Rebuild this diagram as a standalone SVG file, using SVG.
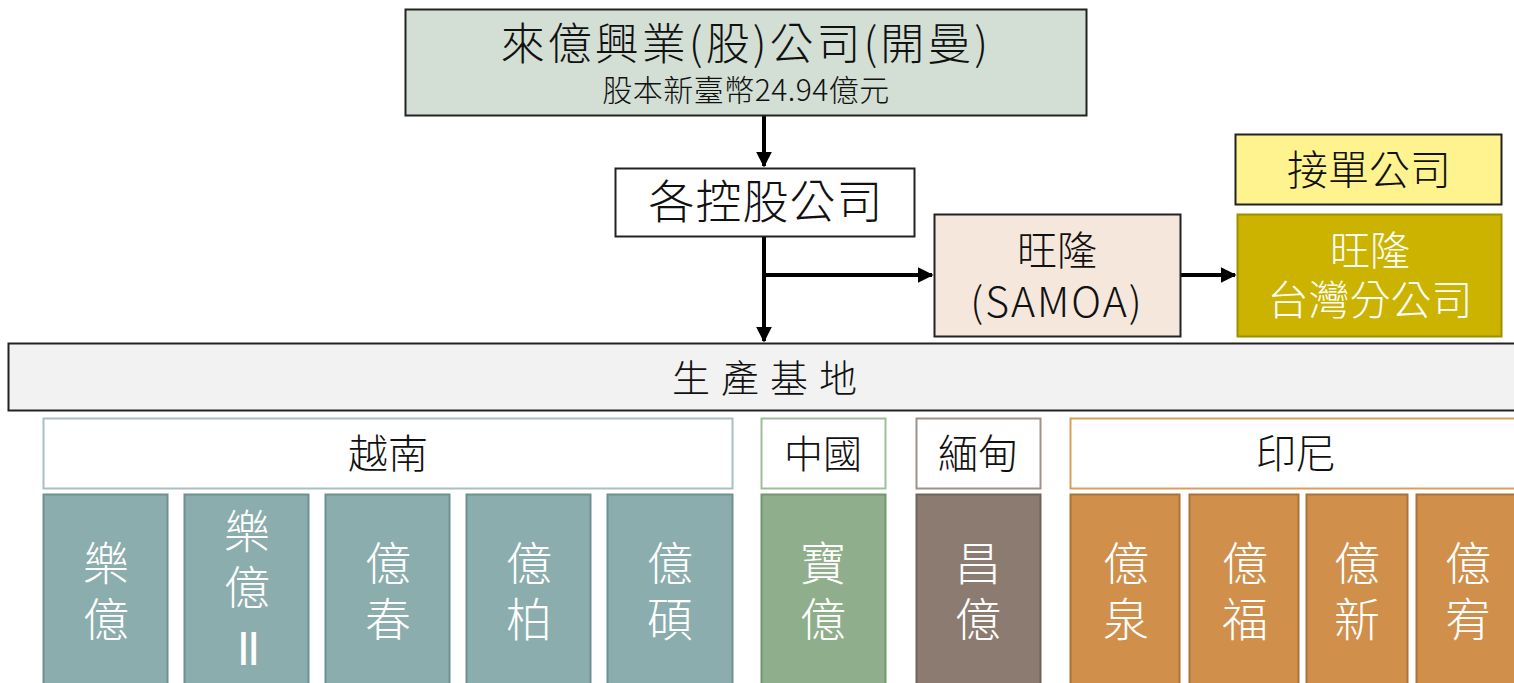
<svg xmlns="http://www.w3.org/2000/svg" width="1514" height="683" viewBox="0 0 1514 683">
<style>
text{font-family:"Noto Sans CJK TC","Noto Sans",sans-serif;text-anchor:middle;font-weight:300}
.dk{fill:#111}
.wh{fill:#fff}
.col{font-size:46px;fill:#fff}
.vn{fill:#8cadad;stroke:#6f9090;stroke-width:2}
.cn{fill:#8fae8b;stroke:#739570;stroke-width:2}
.mm{fill:#8c7b70;stroke:#70625a;stroke-width:2}
.id{fill:#d08f4b;stroke:#ac7338;stroke-width:2}
.line{stroke:#000;stroke-width:4;fill:none}
</style>
<defs>
<marker id="ah" viewBox="0 0 10 10" refX="9" refY="5" markerWidth="4" markerHeight="4" orient="auto" markerUnits="strokeWidth">
<path d="M0,0 L10,5 L0,10 z" fill="#000"/>
</marker>
</defs>
<rect width="1514" height="683" fill="#fff"/>
<g id="connectors">
<line class="line" x1="764" y1="116" x2="764" y2="166" marker-end="url(#ah)"/>
<line class="line" x1="764" y1="237" x2="764" y2="341" marker-end="url(#ah)"/>
<line class="line" x1="764" y1="275" x2="932" y2="275" marker-end="url(#ah)"/>
<line class="line" x1="1181" y1="275" x2="1235" y2="275" marker-end="url(#ah)"/>
</g>
<g id="parent">
<rect x="405.5" y="9.5" width="681" height="106" fill="#d3dfd4" stroke="#222" stroke-width="2"/>
<text class="dk"><tspan x="746" y="60" font-size="44" letter-spacing="3">來億興業(股)公司(開曼)</tspan><tspan x="746" y="101" font-size="30" letter-spacing="0.5">股本新臺幣24.94億元</tspan></text>
</g>
<g id="holding">
<rect x="615.5" y="168.5" width="299" height="68" fill="#fff" stroke="#222" stroke-width="2"/>
<text x="766" y="218" font-size="46" letter-spacing="1" class="dk">各控股公司</text>
</g>
<g id="samoa">
<rect x="934.5" y="214.5" width="246" height="122" fill="#f5e7dc" stroke="#222" stroke-width="2"/>
<text class="dk"><tspan x="1057" y="265" font-size="40">旺隆</tspan><tspan x="1057" y="317" font-size="41" letter-spacing="2">(SAMOA)</tspan></text>
</g>
<g id="order">
<rect x="1235.5" y="134.5" width="266" height="70" fill="#fff38f" stroke="#222" stroke-width="2"/>
<text x="1369" y="185" font-size="41" class="dk">接單公司</text>
</g>
<g id="taiwan">
<rect x="1237.5" y="214.5" width="264" height="122" fill="#cbb300" stroke="#a08e00" stroke-width="2"/>
<text class="wh"><tspan x="1370" y="265" font-size="40">旺隆</tspan><tspan x="1370" y="315" font-size="41">台灣分公司</tspan></text>
</g>
<g id="base">
<rect x="8.5" y="343.5" width="1510" height="67" fill="#f2f2f2" stroke="#222" stroke-width="2"/>
<text x="770" y="392" font-size="38" class="dk" letter-spacing="11">生產基地</text>
</g>
<g id="vietnam">
<rect x="43.5" y="418.5" width="689" height="70" fill="#fff" stroke="#a8c0c0" stroke-width="2"/>
<text x="388" y="468" font-size="40" class="dk">越南</text>
</g>
<g id="china">
<rect x="761.5" y="418.5" width="124" height="70" fill="#fff" stroke="#9fbd9c" stroke-width="2"/>
<text x="823" y="468" font-size="39" class="dk">中國</text>
</g>
<g id="myanmar">
<rect x="916.5" y="418.5" width="124" height="70" fill="#fff" stroke="#a0908a" stroke-width="2"/>
<text x="978" y="468" font-size="40" class="dk">緬甸</text>
</g>
<g id="indonesia">
<rect x="1070.5" y="418.5" width="450" height="70" fill="#fff" stroke="#dc9d5c" stroke-width="2"/>
<text x="1296" y="468" font-size="40" class="dk">印尼</text>
</g>
<g id="leyi">
<rect class="vn" x="43.5" y="494.5" width="124" height="200"/>
<text class="col"><tspan x="106" y="580">樂</tspan><tspan x="106" y="636">億</tspan></text>
</g>
<g id="leyi2">
<rect class="vn" x="184.5" y="494.5" width="124" height="200"/>
<text class="col"><tspan x="247" y="548">樂</tspan><tspan x="247" y="604">億</tspan><tspan x="247" y="665" font-size="48" font-family="Liberation Sans, sans-serif" font-weight="normal" letter-spacing="-3">II</tspan></text>
</g>
<g id="yichun">
<rect class="vn" x="325.5" y="494.5" width="124" height="200"/>
<text class="col"><tspan x="388" y="580">億</tspan><tspan x="388" y="636">春</tspan></text>
</g>
<g id="yibai">
<rect class="vn" x="466.5" y="494.5" width="124" height="200"/>
<text class="col"><tspan x="529" y="580">億</tspan><tspan x="529" y="636">柏</tspan></text>
</g>
<g id="yishuo">
<rect class="vn" x="607.5" y="494.5" width="125" height="200"/>
<text class="col"><tspan x="670" y="580">億</tspan><tspan x="670" y="636">碩</tspan></text>
</g>
<g id="baoyi">
<rect class="cn" x="761.5" y="494.5" width="124" height="200"/>
<text class="col"><tspan x="823" y="580">寶</tspan><tspan x="823" y="636">億</tspan></text>
</g>
<g id="changyi">
<rect class="mm" x="916.5" y="494.5" width="124" height="200"/>
<text class="col"><tspan x="978" y="580">昌</tspan><tspan x="978" y="636">億</tspan></text>
</g>
<g id="yiquan">
<rect class="id" x="1070.5" y="494.5" width="109" height="200"/>
<text class="col"><tspan x="1126" y="580">億</tspan><tspan x="1126" y="636">泉</tspan></text>
</g>
<g id="yifu">
<rect class="id" x="1189.5" y="494.5" width="109" height="200"/>
<text class="col"><tspan x="1245" y="580">億</tspan><tspan x="1245" y="636">福</tspan></text>
</g>
<g id="yixin">
<rect class="id" x="1306.5" y="494.5" width="101" height="200"/>
<text class="col"><tspan x="1357" y="580">億</tspan><tspan x="1357" y="636">新</tspan></text>
</g>
<g id="yixiao">
<rect class="id" x="1416.5" y="494.5" width="110" height="200"/>
<text class="col"><tspan x="1468" y="580">億</tspan><tspan x="1468" y="636">宥</tspan></text>
</g>
</svg>
